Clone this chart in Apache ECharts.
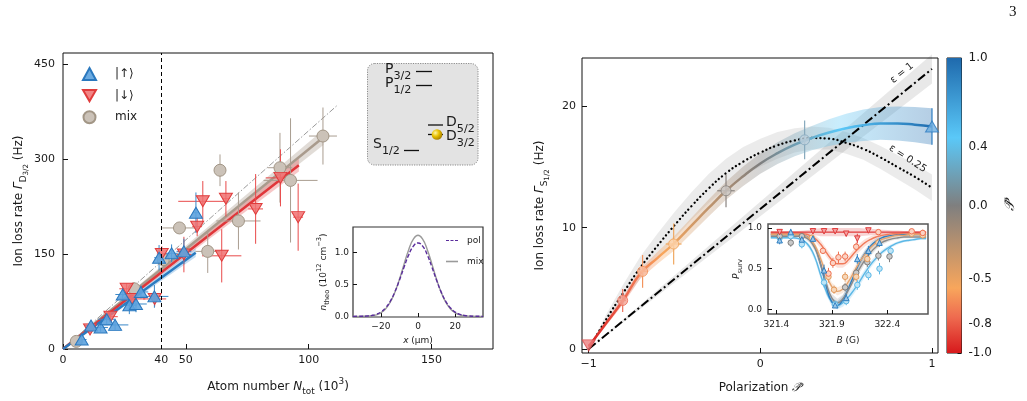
<!DOCTYPE html>
<html><head><meta charset="utf-8">
<script src="https://cdn.jsdelivr.net/npm/echarts@6/dist/echarts.min.js"></script>
<style>html,body{margin:0;padding:0;background:#fff}#c{width:1027px;height:401px}</style>
</head><body><div id="c"></div>
<script>
// ---------------- LEFT PANEL DATA ----------------
const upX = [7.6, 11.4, 15.3, 17.8, 21.2, 24.3, 27.0, 29.7, 31.7, 37.2, 39.1, 44.2, 49.2, 54.1];
const upY = [15, 37, 34, 47, 38, 86, 69, 71, 90, 83, 144, 151, 154, 215];
const upXErr = [2, 2.5, 3, 3.5, 5.4, 3, 3, 4.4, 3, 5.7, 2, 2.5, 3, 1];
const upYErr = [5, 7, 7, 8, 8, 10, 14, 13, 10, 18, 20, 14, 20, 32];

const dnX = [11.0, 19.3, 25.9, 28.0, 37.3, 40.2, 49.2, 54.6, 56.9, 64.6, 66.3, 78.4, 88.5, 95.7];
const dnY = [31, 51, 95, 79, 79, 150, 149, 193, 233, 147, 237, 221, 270, 208];
const dnXErr = [2, 3, 3, 5.5, 4.7, 2, 3, 2, 10, 8, 1.5, 3, 6, 2];
const dnYErr = [5, 6, 8, 12, 12, 12, 28, 15, 32, 42, 28, 55, 45, 53];

const mixX = [5.4, 29.0, 40.8, 47.4, 58.9, 63.9, 71.4, 88.3, 92.6, 105.8];
const mixY = [12, 95, 141, 191, 154, 282, 202, 286, 266, 336];
const mixXErr = [2, 2, 2, 7, 5, 2, 9, 5, 11, 5.7];
const mixYErr = [5, 10, 10, 8, 34, 25, 45, 55, 98, 45];

const fitUpX = [0, 54], fitUpY = [0, 152], fitUpHW = [0, 7];
const fitDnX = [0, 96], fitDnY = [0, 290], fitDnHW = [0, 10];
const fitMixX = [0, 106], fitMixY = [0, 334], fitMixHW = [0, 12];
const guideX = [0, 111.5], guideY = [0, 384];
const cutX = 40;

const leftXLabels = [0, 40, 50, 100, 150];
const leftXTicks = [0, 50, 100, 150];
const leftYTicks = [0, 150, 300, 450];

// left inset density profiles
const profX = [-35,-32.5,-30,-27.5,-25,-22.5,-20,-17.5,-15,-12.5,-10,-7.5,-5,-2.5,0,2.5,5,7.5,10,12.5,15,17.5,20,22.5,25,27.5,30,32.5,35];
const profMix = [0,0,0.001,0.003,0.01,0.024,0.056,0.116,0.219,0.375,0.581,0.818,1.045,1.209,1.27,1.209,1.045,0.818,0.581,0.375,0.219,0.116,0.056,0.024,0.01,0.003,0.001,0,0];
const profPol = [0,0.001,0.002,0.005,0.014,0.032,0.067,0.131,0.233,0.380,0.566,0.772,0.963,1.10,1.15,1.10,0.963,0.772,0.566,0.380,0.233,0.131,0.067,0.032,0.014,0.005,0.002,0.001,0];
const insLXTicks = [-20, 0, 20];
const insLYTicks = [0, 0.5, 1.0];

// ---------------- RIGHT PANEL DATA ----------------
const polX = [-1, -0.802, -0.686, -0.505, -0.20, 0.258, 1.0];
const rateY = [0.3, 4.0, 6.4, 8.66, 13.05, 17.25, 18.35];
const polXErr = [0, 0.02, 0.032, 0.046, 0.051, 0.02, 0];
const rateYErr = [0.1, 0.95, 1.35, 1.7, 1.35, 1.6, 1.5];

const fitP = [-1,-0.9,-0.8,-0.7,-0.6,-0.5,-0.4,-0.3,-0.2,-0.1,0,0.1,0.2,0.3,0.4,0.5,0.6,0.7,0.8,0.9,1.0];
const fitRate = [0.2,2.1,4.0,6.2,7.5,8.75,10.2,11.65,13.05,14.25,15.3,16.15,16.85,17.4,17.85,18.2,18.45,18.6,18.6,18.5,18.35];
const fitHW = [0.1,0.2,0.3,0.4,0.5,0.6,0.65,0.7,0.75,0.8,0.85,0.9,0.95,1.0,1.1,1.2,1.3,1.35,1.4,1.45,1.5];
const eps025Rate = [0,2.4,4.6,6.7,8.5,10.2,11.8,13.25,14.5,15.45,16.2,16.8,17.2,17.4,17.35,17.0,16.5,15.8,15.0,14.2,13.3];
const eps025HW = [0,0.4,0.7,0.9,1.0,1.1,1.15,1.2,1.2,1.2,1.15,1.1,1.0,0.95,0.9,0.9,0.9,0.95,1.0,1.05,1.1];
const eps1P = [-1, 1], eps1Rate = [0, 23.1], eps1HW = [0, 1.2];
const epsLabelX = [0.825, 0.858], epsLabelY = [22.75, 15.7], epsLabelText = ['ε = 1', 'ε = 0.25'];
const epsLabelRot = [39, -33];

const rightXTicks = [-1, 0, 1];
const rightYTicks = [0, 10, 20];
const cbTicks = [-1, -0.8, -0.5, 0, 0.4, 1];

// right inset: survival probability vs B
const insB = [321.35,321.40,321.45,321.50,321.55,321.60,321.65,321.70,321.75,321.80,321.85,321.90,321.95,322.00,322.05,322.10,322.15,322.20,322.25,322.30,322.35,322.40,322.45,322.50,322.55,322.60,322.65,322.70,322.75];
const survRed    = [0.95,0.95,0.95,0.95,0.95,0.95,0.95,0.95,0.95,0.95,0.95,0.95,0.95,0.95,0.95,0.95,0.95,0.95,0.95,0.95,0.95,0.95,0.95,0.95,0.95,0.95,0.95,0.95,0.95];
const survSalmon = [0.94,0.94,0.94,0.94,0.94,0.94,0.93,0.91,0.87,0.80,0.70,0.61,0.56,0.56,0.61,0.69,0.76,0.82,0.86,0.89,0.91,0.92,0.93,0.93,0.94,0.94,0.94,0.94,0.94];
const survTan    = [0.92,0.92,0.92,0.92,0.92,0.92,0.91,0.87,0.78,0.62,0.43,0.28,0.22,0.25,0.34,0.46,0.58,0.68,0.76,0.82,0.86,0.88,0.90,0.91,0.91,0.92,0.92,0.92,0.92];
const survGray   = [0.90,0.90,0.90,0.90,0.90,0.90,0.89,0.85,0.75,0.55,0.32,0.14,0.08,0.13,0.24,0.37,0.50,0.61,0.70,0.77,0.82,0.85,0.87,0.88,0.89,0.89,0.89,0.89,0.89];
const survLight  = [0.88,0.88,0.88,0.88,0.88,0.87,0.84,0.77,0.63,0.42,0.22,0.09,0.05,0.08,0.15,0.24,0.34,0.45,0.55,0.63,0.70,0.75,0.79,0.82,0.84,0.85,0.86,0.87,0.87];
const survBlue   = [0.92,0.92,0.92,0.92,0.92,0.92,0.91,0.87,0.76,0.55,0.28,0.09,0.05,0.12,0.26,0.42,0.57,0.69,0.78,0.84,0.88,0.90,0.91,0.92,0.92,0.92,0.92,0.92,0.92];
const survHW     = [0.015,0.015,0.015,0.015,0.015,0.015,0.02,0.03,0.04,0.05,0.05,0.05,0.05,0.05,0.05,0.05,0.05,0.045,0.04,0.035,0.03,0.025,0.02,0.02,0.015,0.015,0.015,0.015,0.015];

const ptRedB = [321.43,321.73,321.83,321.93,322.03,322.13,322.23], ptRedP = [0.95,0.96,0.96,0.96,0.93,0.87,0.97], ptRedE = [0.02,0.02,0.02,0.02,0.03,0.06,0.02];
const ptSalB = [321.82,321.87,321.91,321.96,322.02,322.12,322.32,322.62,322.72], ptSalP = [0.72,0.44,0.57,0.64,0.65,0.77,0.95,0.96,0.94], ptSalE = [0.04,0.07,0.06,0.07,0.06,0.05,0.03,0.03,0.04];
const ptTanB = [321.72,321.87,321.92,322.02,322.12,322.22,322.32,322.62,322.72], ptTanP = [0.88,0.40,0.24,0.40,0.40,0.62,0.82,0.93,0.91], ptTanE = [0.03,0.07,0.05,0.06,0.06,0.06,0.05,0.04,0.04];
const ptGrayB = [321.43,321.53,321.63,322.02,322.12,322.22,322.32,322.42], ptGrayP = [0.90,0.82,0.90,0.27,0.45,0.58,0.66,0.65], ptGrayE = [0.03,0.05,0.03,0.05,0.05,0.06,0.06,0.07];
const ptLightB = [321.43,321.53,321.63,321.83,321.93,322.03,322.13,322.23,322.33,322.43], ptLightP = [0.88,0.90,0.80,0.33,0.06,0.10,0.30,0.42,0.50,0.72], ptLightE = [0.03,0.03,0.05,0.06,0.04,0.05,0.06,0.06,0.07,0.06];
const ptBlueB = [321.43,321.53,321.63,321.73,321.83,321.93,322.03,322.13,322.23,322.33], ptBlueP = [0.85,0.95,0.86,0.87,0.48,0.05,0.14,0.62,0.72,0.82], ptBlueE = [0.05,0.04,0.05,0.04,0.07,0.03,0.05,0.06,0.06,0.05];
const insRXTicks = [321.4, 321.9, 322.4];
const insRYTicks = [0, 0.5, 1.0];

// ---------------- STYLE ----------------
const F = 'DejaVu Sans';
const TXT = '#1a1a1a';
const cmap = [[-1,'#d7191c'],[-0.76,'#ee6a4f'],[-0.56,'#f8a65c'],[0,'#7f7f7f'],[0.46,'#5ac8f8'],[1,'#1f6aad']];
function hexA(h, a){const r=parseInt(h.slice(1,3),16),g=parseInt(h.slice(3,5),16),b=parseInt(h.slice(5,7),16);return `rgba(${r},${g},${b},${a})`;}
function gradH(a){return new echarts.graphic.LinearGradient(0,0,1,0,cmap.map(s=>({offset:(s[0]+1)/2,color:a==null?s[1]:hexA(s[1],a)})));}
function gradV(){return new echarts.graphic.LinearGradient(0,0,0,1,cmap.slice().reverse().map(s=>({offset:(1-s[0])/2,color:s[1]})));}
const ptFill = ['#ec8080','#f4a394','#f9bda0','#fcd3ac','#cbc6c2','#bdd0dc','#6eaee0'];
const ptEdge = ['#d94848','#ec6e58','#f3945e','#f0a860','#8a8480','#86a9bd','#2d7cc0'];

function R(sz, subScale, subDrop){
  const s=+(sz*(subScale||0.74)).toFixed(1), ss=+(sz*0.6).toFixed(1), top=Math.round(sz*0.4);
  const b={fontFamily:F,color:TXT,fill:TXT,verticalAlign:'top'};
  return {
    n:Object.assign({},b,{fontSize:sz,lineHeight:sz+2,padding:[top,0,0,0]}),
    i:Object.assign({},b,{fontSize:sz,lineHeight:sz+2,padding:[top,0,0,0],fontStyle:'italic'}),
    s:Object.assign({},b,{fontSize:s,lineHeight:s+1,padding:[top+Math.round(sz*(subDrop||0.5)),0,0,0]}),
    ss:Object.assign({},b,{fontSize:ss,lineHeight:ss+1,padding:[top+Math.round(sz*0.8),0,0,0]}),
    p:Object.assign({},b,{fontSize:s,lineHeight:s+1,padding:[1,0,0,0]})
  };
}

function errSeries(gi, xs, ys, xe, ye, color, w, z){
  return {type:'custom', xAxisIndex:gi, yAxisIndex:gi, z:z||3, silent:true,
    data: xs.map((x,i)=>[x, ys[i], xe?xe[i]:0, ye[i]]),
    renderItem(p, api){
      const x=api.value(0), y=api.value(1), dx=api.value(2), dy=api.value(3);
      const a=api.coord([x-dx,y]), b=api.coord([x+dx,y]), c=api.coord([x,y-dy]), d=api.coord([x,y+dy]);
      const st={stroke:color, lineWidth:w||1};
      const ch=[{type:'line',shape:{x1:c[0],y1:c[1],x2:d[0],y2:d[1]},style:st}];
      if(dx>0) ch.push({type:'line',shape:{x1:a[0],y1:a[1],x2:b[0],y2:b[1]},style:st});
      return {type:'group', children:ch};
    }};
}
function bandSeries(gi, xs, ys, hw, fill, z){
  return {type:'custom', xAxisIndex:gi, yAxisIndex:gi, z:z||1, silent:true,
    data:[[xs[0], ys[0]]],
    renderItem(p, api){
      const pts=[];
      for(let i=0;i<xs.length;i++) pts.push(api.coord([xs[i], ys[i]+hw[i]]));
      for(let i=xs.length-1;i>=0;i--) pts.push(api.coord([xs[i], ys[i]-hw[i]]));
      return {type:'polygon', shape:{points:pts}, style:{fill:fill}};
    }};
}
function lineSeries(gi, xs, ys, color, width, type, z, name, smooth, cap){
  return {type:'line', name:name, xAxisIndex:gi, yAxisIndex:gi, z:z||2, silent:true, symbol:'none', smooth:smooth||false,
    data: xs.map((x,i)=>[x, ys[i]]), itemStyle:{color:color},
    lineStyle:{color:color, width:width, type:type||'solid', cap:cap||'butt'}};
}
function scatter(gi, name, xs, ys, symbol, size, fill, edge, z){
  return {type:'scatter', name:name, xAxisIndex:gi, yAxisIndex:gi, z:z||4, symbol:symbol, symbolSize:size, clip:false,
    data: xs.map((x,i)=>[x, ys[i]]), itemStyle:{color:fill, borderColor:edge, borderWidth:1, opacity:1}};
}
function valAxis(gi, min, max, ticks, labels, fmt, extra){
  return Object.assign({type:'value', gridIndex:gi, min:min, max:max, splitLine:{show:false}, axisLine:{show:false, onZero:false},
    axisTick:{show:true, inside:true, length:4, customValues:ticks, lineStyle:{color:'#111', width:1}},
    axisLabel:{customValues:labels||ticks, formatter:fmt, fontFamily:F, fontSize:11, color:TXT, margin:6}}, extra||{});
}

const DOWN = 'path://M0,0L12,0L6,10.4Z';
const DASHES = 'path://M0,0h3v1h-3zM4.5,0h3v1h-3zM9,0h3v1h-3z';
const R12 = R(12), R9 = R(9), RB = R(14, 0.8, 0.62);

const series = [
  // ---- left main (grid 0)
  bandSeries(0, fitMixX, fitMixY, fitMixHW, 'rgba(170,155,140,0.35)', 1),
  bandSeries(0, fitDnX, fitDnY, fitDnHW, 'rgba(230,70,70,0.3)', 1),
  bandSeries(0, fitUpX, fitUpY, fitUpHW, 'rgba(60,140,210,0.3)', 1),
  Object.assign(lineSeries(0, guideX, guideY, '#9a9a9a', 1, [6,2,1.5,2], 2), {markLine:{symbol:'none', silent:true, label:{show:false},
    lineStyle:{color:'#000', type:[4,3], width:1}, data:[{xAxis:cutX}]}}),
  lineSeries(0, fitMixX, fitMixY, '#a99b8d', 2.5, 'solid', 2),
  lineSeries(0, fitDnX, fitDnY, '#e0363a', 2.5, 'solid', 2),
  lineSeries(0, fitUpX, fitUpY, '#2a7bc0', 2.5, 'solid', 2),
  errSeries(0, mixX, mixY, mixXErr, mixYErr, '#a99d90', 1, 3),
  errSeries(0, dnX, dnY, dnXErr, dnYErr, '#e84a4a', 1, 3),
  errSeries(0, upX, upY, upXErr, upYErr, '#3a88c8', 1, 3),
  scatter(0, 'mix', mixX, mixY, 'circle', 12, '#cbc2b8', '#a29686', 4),
  scatter(0, '|↓⟩', dnX, dnY, DOWN, [13,11], 'rgba(240,112,112,0.85)', '#e03c3c', 4),
  scatter(0, '|↑⟩', upX, upY, 'triangle', [13,11], 'rgba(92,162,222,0.9)', '#2a78be', 4),
  // ---- left inset (grid 1)
  lineSeries(1, profX, profMix, '#9a9a9a', 1.4, 'solid', 5, 'mixTh', true),
  lineSeries(1, profX, profPol, '#5a2d9c', 1.4, [4,2], 6, 'pol', true),
  // ---- right main (grid 2)
  bandSeries(2, eps1P, eps1Rate, eps1HW, 'rgba(0,0,0,0.09)', 1),
  bandSeries(2, fitP, eps025Rate, eps025HW, 'rgba(0,0,0,0.08)', 1),
  bandSeries(2, fitP, fitRate, fitHW, gradH(0.33), 1),
  lineSeries(2, eps1P, eps1Rate, '#000', 2, [9,3,2,3], 2),
  lineSeries(2, fitP, eps025Rate, '#000', 2.3, [0.1,4.2], 2, undefined, true, 'round'),
  lineSeries(2, fitP, fitRate, gradH(), 2.5, 'solid', 3, undefined, true),
  {type:'custom', xAxisIndex:2, yAxisIndex:2, z:4, silent:true,
    data: polX.map((x,i)=>[x, rateY[i], polXErr[i], rateYErr[i], i]),
    renderItem(p, api){
      const i=api.value(4), x=api.value(0), y=api.value(1), dx=api.value(2), dy=api.value(3);
      const a=api.coord([x-dx,y]), b=api.coord([x+dx,y]), c=api.coord([x,y-dy]), d=api.coord([x,y+dy]);
      const st={stroke:ptEdge[i], lineWidth:1.2};
      const ch=[{type:'line',shape:{x1:c[0],y1:c[1],x2:d[0],y2:d[1]},style:st}];
      if(dx>0) ch.push({type:'line',shape:{x1:a[0],y1:a[1],x2:b[0],y2:b[1]},style:st});
      return {type:'group', children:ch};
    }},
  {type:'scatter', xAxisIndex:2, yAxisIndex:2, z:5, clip:false, silent:true,
    data: polX.map((x,i)=>({value:[x, rateY[i]],
      symbol: i===0?DOWN:(i===polX.length-1?'triangle':'circle'),
      symbolSize: i===0||i===polX.length-1?[13,11]:10,
      itemStyle:{color:ptFill[i], borderColor:ptEdge[i], borderWidth:1}}))},
  {type:'custom', xAxisIndex:2, yAxisIndex:2, z:6, silent:true,
    data: epsLabelX.map((x,i)=>[x, epsLabelY[i], i]),
    renderItem(p, api){
      const c=api.coord([api.value(0), api.value(1)]), i=api.value(2);
      return {type:'text', x:c[0], y:c[1], rotation:epsLabelRot[i]*Math.PI/180,
        style:{text:epsLabelText[i], fontFamily:F, fontSize:10, fill:'#222', align:'center', verticalAlign:'middle', textAlign:'center', textVerticalAlign:'middle'}};
    }},
  // ---- colorbar (grid 4)
  {type:'custom', xAxisIndex:4, yAxisIndex:4, silent:true, data:[[0,0]],
    renderItem(p, api){
      const a=api.coord([0,1]), b=api.coord([1,-1]);
      return {type:'rect', shape:{x:a[0], y:a[1], width:b[0]-a[0], height:b[1]-a[1]}, style:{fill:gradV()}};
    }}
];

// ---- right inset (grid 3)
const insetCurves = [
  [survLight, '#5cb8e6'], [survBlue, '#2f7fc1'], [survGray, '#8a8a8a'], [survTan, '#e6a46e'], [survSalmon, '#f07a5a'], [survRed, '#e03a3a']
];
insetCurves.forEach(c=>{ series.push(bandSeries(3, insB, c[0], survHW, hexA(c[1],0.22), 7)); });
insetCurves.forEach(c=>{ series.push(lineSeries(3, insB, c[0], c[1], 1.4, 'solid', 8, undefined, true)); });
const insetPts = [
  [ptLightB, ptLightP, ptLightE, '#5cb8e6', '#bfe5f7', 'circle'],
  [ptGrayB, ptGrayP, ptGrayE, '#7d7d7d', '#c9c9c9', 'circle'],
  [ptTanB, ptTanP, ptTanE, '#e39a5c', '#f6d6b8', 'circle'],
  [ptSalB, ptSalP, ptSalE, '#ef6f4e', '#fbd2c4', 'circle'],
  [ptBlueB, ptBlueP, ptBlueE, '#2f7fc1', '#9cc8ea', 'triangle'],
  [ptRedB, ptRedP, ptRedE, '#e03a3a', '#f5a0a0', DOWN]
];
insetPts.forEach(s=>{
  series.push(errSeries(3, s[0], s[1], null, s[2], s[3], 1, 9));
  series.push(scatter(3, undefined, s[0], s[1], s[5], 5.5, s[4], s[3], 10));
});

const option = {
  animation:false,
  backgroundColor:'#fff',
  textStyle:{fontFamily:F},
  grid:[
    {left:63, top:53, width:430, height:297, show:true, borderColor:'#111', borderWidth:1, backgroundColor:'transparent'},
    {left:353, top:227, width:130, height:90, show:true, borderColor:'#333', borderWidth:1.2, backgroundColor:'#fff'},
    {left:582, top:58, width:356, height:295, show:true, borderColor:'#111', borderWidth:1, backgroundColor:'transparent'},
    {left:768, top:224, width:160, height:90, show:true, borderColor:'#555', borderWidth:1.5, backgroundColor:'#fff'},
    {left:947, top:58, width:14.5, height:295, show:true, borderColor:'#111', borderWidth:1, backgroundColor:'transparent'}
  ],
  xAxis:[
    valAxis(0, 0, 175, leftXTicks, leftXLabels, v=>String(v), {axisTick:{show:true, inside:true, length:5, customValues:leftXTicks, lineStyle:{color:'#111'}},
      name:'{n|Atom number }{i|N}{s|tot}{n| (10}{p|3}{n|)}', nameLocation:'middle', nameGap:27, nameTextStyle:{rich:R12}}),
    valAxis(1, -35, 35, insLXTicks, insLXTicks, v=>v<0?'−'+Math.abs(v):String(v), {axisLabel:{customValues:insLXTicks, formatter:v=>v<0?'−'+Math.abs(v):String(v), fontFamily:F, fontSize:9, color:TXT, margin:5},
      name:'{i|x}{n| (μm)}', nameLocation:'middle', nameGap:13, nameTextStyle:{rich:R9}}),
    valAxis(2, -1.039, 1.035, rightXTicks, rightXTicks, v=>v<0?'−'+Math.abs(v):String(v), {axisTick:{show:true, inside:true, length:5, customValues:rightXTicks, lineStyle:{color:'#111'}},
      name:'{n|Polarization }{i|𝒫̂}', nameLocation:'middle', nameGap:24, nameTextStyle:{rich:R12}}),
    valAxis(3, 321.325, 322.767, insRXTicks, insRXTicks, v=>v.toFixed(1), {axisLabel:{customValues:insRXTicks, formatter:v=>v.toFixed(1), fontFamily:F, fontSize:9, color:TXT, margin:6},
      name:'{i|B}{n| (G)}', nameLocation:'middle', nameGap:18, nameTextStyle:{rich:R9}}),
    {type:'value', gridIndex:4, min:0, max:1, show:false}
  ],
  yAxis:[
    valAxis(0, 0, 467, leftYTicks, leftYTicks, v=>String(v), {axisTick:{show:true, inside:true, length:5, customValues:leftYTicks, lineStyle:{color:'#111'}},
      axisLabel:{customValues:leftYTicks, fontFamily:F, fontSize:11, color:TXT, margin:8},
      name:'{n|Ion loss rate }{i|Γ}{s|D}{ss|3/2}{n| (Hz)}', nameLocation:'middle', nameGap:41, nameTextStyle:{rich:R12}}),
    valAxis(1, -0.01, 1.40, insLYTicks, insLYTicks, v=>v.toFixed(1), {axisLabel:{customValues:insLYTicks, formatter:v=>v.toFixed(1), fontFamily:F, fontSize:9, color:TXT, margin:4},
      name:'{i|n}{s|theo}{n| (10}{p|12}{n| cm}{p|−3}{n|)}', nameLocation:'middle', nameGap:24, nameTextStyle:{rich:R9}}),
    valAxis(2, -0.33, 24, rightYTicks, rightYTicks, v=>String(v), {axisTick:{show:true, inside:true, length:5, customValues:rightYTicks, lineStyle:{color:'#111'}},
      axisLabel:{customValues:rightYTicks, fontFamily:F, fontSize:11, color:TXT, margin:6},
      name:'{n|Ion loss rate }{i|Γ}{s|S}{ss|1/2}{n| (Hz)}', nameLocation:'middle', nameGap:39, nameTextStyle:{rich:R12}}),
    valAxis(3, -0.058, 1.05, insRYTicks, insRYTicks, v=>v.toFixed(1), {axisLabel:{customValues:insRYTicks, formatter:v=>v.toFixed(1), fontFamily:F, fontSize:9, color:TXT, margin:6},
      name:'{i|P}{s|surv}', nameLocation:'middle', nameGap:25, nameTextStyle:{rich:R9}}),
    valAxis(4, -1, 1, cbTicks, cbTicks, v=>v.toFixed(1), {position:'right', axisLabel:{customValues:cbTicks, formatter:v=>v.toFixed(1), fontFamily:F, fontSize:12, color:TXT, margin:7},
      name:'{i|𝒫̂}', nameLocation:'middle', nameGap:36, nameRotate:90, nameTextStyle:{rich:R(14)}})
  ],
  legend:[
    {left:82, top:67, orient:'vertical', padding:0, itemWidth:13, itemHeight:12, itemGap:8,
      textStyle:{fontFamily:F, fontSize:12, color:TXT, padding:[0,0,0,14]},
      data:[{name:'|↑⟩', icon:'triangle'}, {name:'|↓⟩', icon:DOWN}, {name:'mix', icon:'circle'}]},
    {left:446, top:236, orient:'vertical', padding:0, itemWidth:12, itemHeight:1.6, itemGap:12,
      formatter: n => n === 'mixTh' ? 'mix' : n,
      textStyle:{fontFamily:F, fontSize:9, color:TXT, padding:[0,0,0,4]},
      data:[{name:'pol', icon:DASHES}, {name:'mixTh', icon:'rect'}]}
  ],
  series: series,
  graphic:[
    {type:'text', x:1009, y:5, style:{text:'3', fontFamily:'Liberation Serif', fontSize:15, fill:'#111'}},
    {type:'rect', z:10, shape:{x:367.5, y:63.5, width:110.5, height:101.5, r:7}, style:{fill:'#e3e3e3', stroke:'#8a8a8a', lineWidth:1, lineDash:[1.2,1.2]}},
    {type:'line', z:11, shape:{x1:416, y1:71.5, x2:432, y2:71.5}, style:{stroke:'#111', lineWidth:1.3}},
    {type:'line', z:11, shape:{x1:416, y1:85.5, x2:432, y2:85.5}, style:{stroke:'#111', lineWidth:1.3}},
    {type:'line', z:11, shape:{x1:428, y1:125, x2:443, y2:125}, style:{stroke:'#111', lineWidth:1.3}},
    {type:'line', z:11, shape:{x1:428, y1:134.5, x2:443, y2:134.5}, style:{stroke:'#111', lineWidth:1.3}},
    {type:'line', z:11, shape:{x1:404, y1:150.5, x2:419, y2:150.5}, style:{stroke:'#111', lineWidth:1.3}},
    {type:'circle', z:12, shape:{cx:437, cy:134.5, r:5.3}, style:{fill:new echarts.graphic.RadialGradient(0.35,0.35,0.75,[{offset:0,color:'#fff6a8'},{offset:0.45,color:'#e8c000'},{offset:1,color:'#9a7200'}])}},
    {type:'text', z:12, x:385, y:56, style:{text:'{n|P}{s|3/2}', rich:RB}},
    {type:'text', z:12, x:385, y:70, style:{text:'{n|P}{s|1/2}', rich:RB}},
    {type:'text', z:12, x:446, y:109, style:{text:'{n|D}{s|5/2}', rich:RB}},
    {type:'text', z:12, x:446, y:123, style:{text:'{n|D}{s|3/2}', rich:RB}},
    {type:'text', z:12, x:373, y:131, style:{text:'{n|S}{s|1/2}', rich:RB}}
  ]
};
const chart = echarts.init(document.getElementById('c'));
chart.setOption(option);
</script></body></html>
